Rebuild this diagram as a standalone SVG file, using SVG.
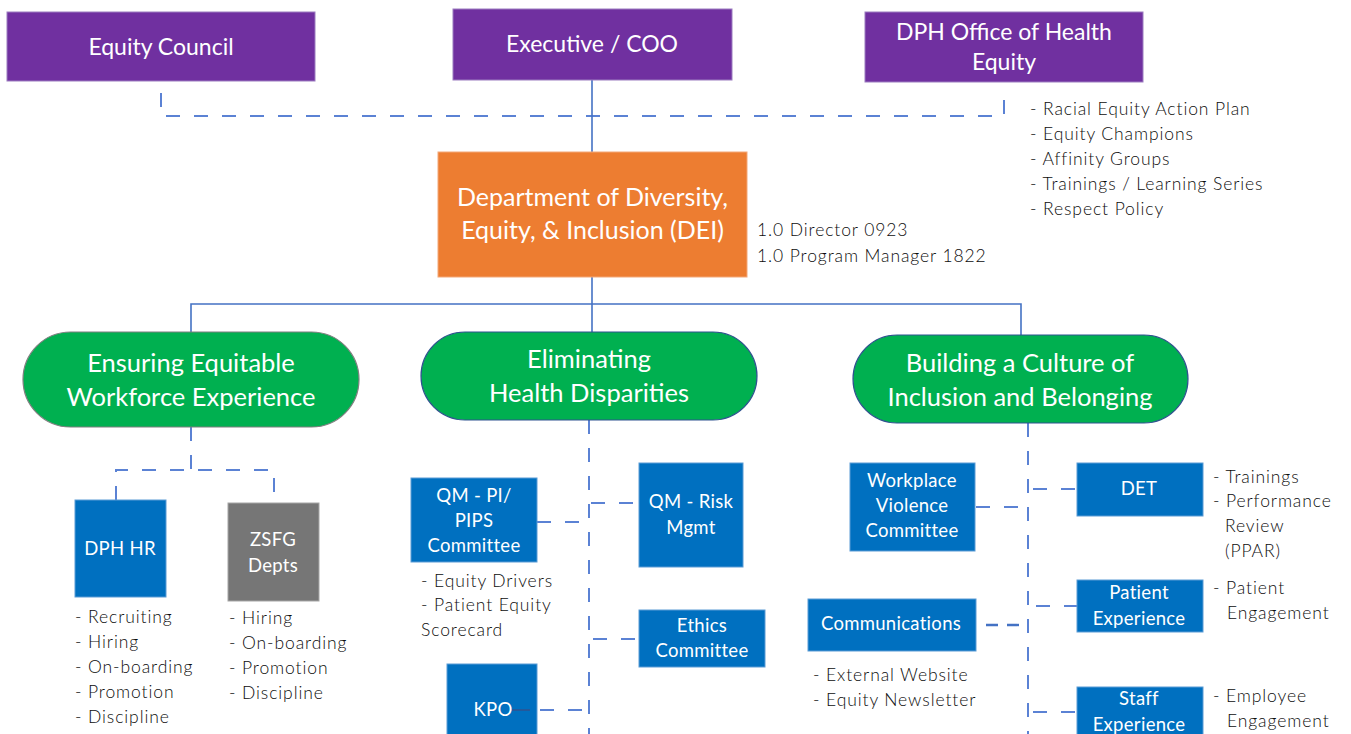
<svg xmlns="http://www.w3.org/2000/svg" width="1351" height="734" viewBox="0 0 1351 734">
  <style>
    .lbl { font-family: Lato, "Open Sans", sans-serif; fill: #ffffff; text-anchor: middle; }
    .top { font-size: 23px; }
    .big { font-size: 25.5px; }
    .dei { font-size: 25px; }
    .box { font-size: 18.5px; letter-spacing: 0.3px; }
    .note { font-family: Lato, "Open Sans", sans-serif; font-size: 17.5px; font-weight: 300; fill: #0d0d0d; letter-spacing: 0.9px; }
    .purple { fill: #7030A0; stroke: #9c7cc0; stroke-width: 1; }
    .orange { fill: #ED7D31; stroke: #f3a878; stroke-width: 1; }
    .green { fill: #00B050; stroke: #2F528F; stroke-width: 1.2; }
    .blue { fill: #0070C0; stroke: #5b9bd5; stroke-width: 1; }
    .grey { fill: #767676; stroke: #a6a6a6; stroke-width: 1; }
    .solid { stroke: #4472C4; stroke-width: 1.6; fill: none; }
    .dash { stroke: #5b82d4; stroke-width: 2; fill: none; stroke-dasharray: 14 14; }
  </style>

  <rect width="1351" height="734" fill="#ffffff"/>

  <!-- connectors -->
  <g id="connectors">
    <!-- advisory links between the top-level bodies -->
    <polyline class="dash" points="161,93 161,116 1004,116 1004,89"/>
    <!-- reporting line -->
    <line class="solid" x1="592" y1="80" x2="592" y2="152"/>
    <line class="solid" x1="592" y1="277" x2="592" y2="304"/>
    <polyline class="solid" points="191,333 191,304 1021,304 1021,335"/>
    <line class="solid" x1="592" y1="304" x2="592" y2="333"/>

    <!-- workforce branch -->
    <line class="dash" x1="191" y1="427" x2="191" y2="470"/>
    <polyline class="dash" points="116,500 116,470 274,470 274,503"/>

    <!-- health disparities branch -->
    <line class="dash" x1="589" y1="420" x2="589" y2="740"/>
    <line class="dash" x1="537" y1="522" x2="589" y2="522"/>
    <line class="dash" x1="591" y1="503" x2="639" y2="503"/>
    <line class="dash" x1="593" y1="639" x2="639" y2="639"/>
    <line class="dash" x1="540" y1="710" x2="589" y2="710"/>

    <!-- inclusion branch -->
    <line class="dash" x1="1028" y1="423" x2="1028" y2="740"/>
    <line class="dash" x1="976" y1="507" x2="1028" y2="507"/>
    <line class="dash" x1="1033" y1="489" x2="1077" y2="489"/>
    <line class="dash" x1="1036" y1="606" x2="1077" y2="606"/>
    <line x1="986" y1="625" x2="1028" y2="625" stroke="#4472C4" stroke-width="2.4" stroke-dasharray="12 9"/>
    <line class="dash" x1="1033" y1="712" x2="1077" y2="712"/>
  </g>

  <!-- top level -->
  <g id="equity-council">
    <rect class="purple" x="7" y="12" width="308" height="69"/>
    <text class="lbl top" x="161" y="55">Equity Council</text>
  </g>
  <g id="executive-coo">
    <rect class="purple" x="453" y="9" width="279" height="71"/>
    <text class="lbl top" x="592" y="52">Executive / COO</text>
  </g>
  <g id="office-health-equity">
    <rect class="purple" x="865" y="12" width="278" height="70"/>
    <text class="lbl top" x="1004" y="40">DPH Office of Health</text>
    <text class="lbl top" x="1004" y="70">Equity</text>
    <text class="note" x="1030" y="115">- Racial Equity Action Plan</text>
    <text class="note" x="1030" y="140">- Equity Champions</text>
    <text class="note" x="1030" y="165">- Affinity Groups</text>
    <text class="note" x="1030" y="190">- Trainings / Learning Series</text>
    <text class="note" x="1030" y="215">- Respect Policy</text>
  </g>

  <g id="dei">
    <rect class="orange" x="438" y="152" width="309" height="125"/>
    <text class="lbl dei" x="592.5" y="206">Department of Diversity,</text>
    <text class="lbl dei" x="592.5" y="239">Equity, &amp; Inclusion (DEI)</text>
    <text class="note" x="757" y="236">1.0 Director 0923</text>
    <text class="note" x="757" y="262">1.0 Program Manager 1822</text>
  </g>

  <!-- pillars -->
  <g id="pillar-workforce">
    <rect x="23" y="332" width="336" height="95" rx="47.5" fill="#00B050" stroke="#7f7f7f" stroke-width="1.2"/>
    <text class="lbl big" x="191" y="372">Ensuring Equitable</text>
    <text class="lbl big" x="191" y="406">Workforce Experience</text>
  </g>
  <g id="pillar-health">
    <rect class="green" x="421" y="332" width="336" height="88" rx="44"/>
    <text class="lbl big" x="589" y="368">Eliminating</text>
    <text class="lbl big" x="589" y="402">Health Disparities</text>
  </g>
  <g id="pillar-inclusion">
    <rect class="green" x="853" y="335" width="335" height="88" rx="44"/>
    <text class="lbl big" x="1020" y="372">Building a Culture of</text>
    <text class="lbl big" x="1020" y="406">Inclusion and Belonging</text>
  </g>

  <!-- workforce units -->
  <g id="dph-hr">
    <rect class="blue" x="75" y="500" width="91" height="97"/>
    <text class="lbl box" x="120" y="555">DPH HR</text>
    <text class="note" x="75" y="623">- Recruiting</text>
    <text class="note" x="75" y="648">- Hiring</text>
    <text class="note" x="75" y="673">- On-boarding</text>
    <text class="note" x="75" y="698">- Promotion</text>
    <text class="note" x="75" y="723">- Discipline</text>
  </g>
  <g id="zsfg-depts">
    <rect class="grey" x="228" y="503" width="91" height="98"/>
    <text class="lbl box" x="273" y="546">ZSFG</text>
    <text class="lbl box" x="273" y="572">Depts</text>
    <text class="note" x="229" y="624">- Hiring</text>
    <text class="note" x="229" y="649">- On-boarding</text>
    <text class="note" x="229" y="674">- Promotion</text>
    <text class="note" x="229" y="699">- Discipline</text>
  </g>

  <!-- health disparities units -->
  <g id="qm-pi-pips">
    <rect class="blue" x="411" y="478" width="126" height="84"/>
    <text class="lbl box" x="474" y="502">QM - PI/</text>
    <text class="lbl box" x="474" y="527">PIPS</text>
    <text class="lbl box" x="474" y="552">Committee</text>
    <text class="note" x="421" y="587">- Equity Drivers</text>
    <text class="note" x="421" y="611">- Patient Equity</text>
    <text class="note" x="421" y="636">Scorecard</text>
  </g>
  <g id="qm-risk">
    <rect class="blue" x="639" y="463" width="104" height="104"/>
    <text class="lbl box" x="691" y="508">QM - Risk</text>
    <text class="lbl box" x="691" y="534">Mgmt</text>
  </g>
  <g id="ethics-committee">
    <rect class="blue" x="639" y="610" width="126" height="57"/>
    <text class="lbl box" x="702" y="632">Ethics</text>
    <text class="lbl box" x="702" y="657">Committee</text>
  </g>
  <g id="kpo">
    <rect class="blue" x="447" y="664" width="90" height="90"/>
    <line x1="512" y1="710" x2="530" y2="710" stroke="#2F528F" stroke-width="1.5"/>
    <text class="lbl box" x="493" y="716">KPO</text>
  </g>

  <!-- inclusion units -->
  <g id="workplace-violence">
    <rect class="blue" x="850" y="463" width="125" height="88"/>
    <text class="lbl box" x="912" y="487">Workplace</text>
    <text class="lbl box" x="912" y="512">Violence</text>
    <text class="lbl box" x="912" y="537">Committee</text>
  </g>
  <g id="communications">
    <rect class="blue" x="808" y="599" width="168" height="52"/>
    <text class="lbl box" x="891" y="630">Communications</text>
    <text class="note" x="813" y="681">- External Website</text>
    <text class="note" x="813" y="706">- Equity Newsletter</text>
  </g>
  <g id="det">
    <rect class="blue" x="1077" y="463" width="126" height="53"/>
    <text class="lbl box" x="1139" y="495">DET</text>
    <text class="note" x="1213" y="483">- Trainings</text>
    <text class="note" x="1213" y="507">- Performance</text>
    <text class="note" x="1225" y="532">Review</text>
    <text class="note" x="1225" y="557">(PPAR)</text>
  </g>
  <g id="patient-experience">
    <rect class="blue" x="1077" y="580" width="126" height="52"/>
    <text class="lbl box" x="1139" y="599">Patient</text>
    <text class="lbl box" x="1139" y="625">Experience</text>
    <text class="note" x="1213" y="594">- Patient</text>
    <text class="note" x="1227" y="619">Engagement</text>
  </g>
  <g id="staff-experience">
    <rect class="blue" x="1077" y="687" width="126" height="70"/>
    <text class="lbl box" x="1139" y="705">Staff</text>
    <text class="lbl box" x="1139" y="731">Experience</text>
    <text class="note" x="1213" y="702">- Employee</text>
    <text class="note" x="1227" y="727">Engagement</text>
  </g>
</svg>
